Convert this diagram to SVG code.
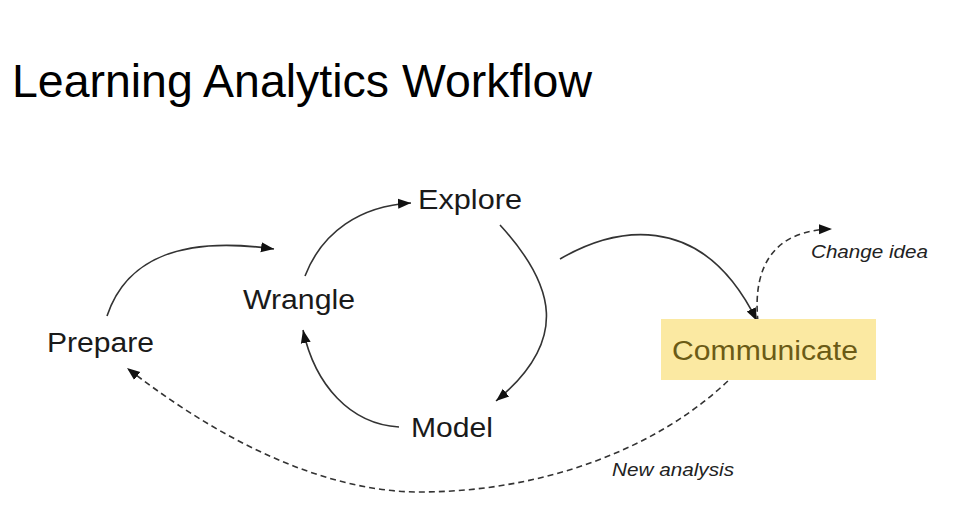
<svg xmlns="http://www.w3.org/2000/svg" width="962" height="529" viewBox="0 0 962 529">
  <style>
    .title { font-family: "Liberation Sans", Arial, sans-serif; font-size: 46px; fill: #000; }
    .lbl { font-family: "Liberation Sans", Arial, sans-serif; font-size: 27px; fill: #1a1a1a; }
    .note { font-family: "Liberation Sans", Arial, sans-serif; font-size: 18px; font-style: italic; fill: #222; }
    .solid { fill: none; stroke: #333; stroke-width: 1.6; marker-end: url(#ah); }
    .dash { fill: none; stroke: #333; stroke-width: 1.6; stroke-dasharray: 6 4; marker-end: url(#ah); }
  </style>
  <defs>
    <marker id="ah" markerUnits="userSpaceOnUse" markerWidth="14" markerHeight="12" refX="13" refY="6" orient="auto">
      <path d="M0,1 L13,6 L0,11 Z" fill="#111"/>
    </marker>
  </defs>
  <rect width="962" height="529" fill="#fff"/>
  <text class="title" x="12" y="97" textLength="580" lengthAdjust="spacingAndGlyphs">Learning Analytics Workflow</text>

  <g id="connectors">
    <path class="solid" d="M107,316 C125,262 175,235 274,249"/>
    <path class="solid" d="M305,276 C322,232 360,206 411,203"/>
    <path class="solid" d="M500,225 C555,285 570,340 496,401"/>
    <path class="solid" d="M399,427 C350,424 315,385 303,330"/>
    <path class="solid" d="M560,259 C610,230 700,205 757,321"/>
    <path class="dash" d="M758,322 C752,265 775,230 832,229"/>
    <path class="dash" d="M735,374 C660,450 540,492 420,492 C310,492 200,425 127,368"/>
  </g>

  <g id="prepare"><text class="lbl" x="47" y="352" textLength="107" lengthAdjust="spacingAndGlyphs">Prepare</text></g>
  <g id="wrangle"><text class="lbl" x="243" y="309" textLength="112" lengthAdjust="spacingAndGlyphs">Wrangle</text></g>
  <g id="explore"><text class="lbl" x="418" y="209" textLength="104" lengthAdjust="spacingAndGlyphs">Explore</text></g>
  <g id="model"><text class="lbl" x="411" y="437" textLength="82" lengthAdjust="spacingAndGlyphs">Model</text></g>
  <g id="communicate">
    <rect x="661" y="319" width="215" height="61" fill="#fbe9a2"/>
    <text class="lbl" x="672" y="360" textLength="186" lengthAdjust="spacingAndGlyphs" style="fill:#6b5b16">Communicate</text>
  </g>
  <g id="change-idea"><text class="note" x="811" y="258" textLength="117" lengthAdjust="spacingAndGlyphs">Change idea</text></g>
  <g id="new-analysis"><text class="note" x="612" y="476" textLength="122" lengthAdjust="spacingAndGlyphs">New analysis</text></g>
</svg>
